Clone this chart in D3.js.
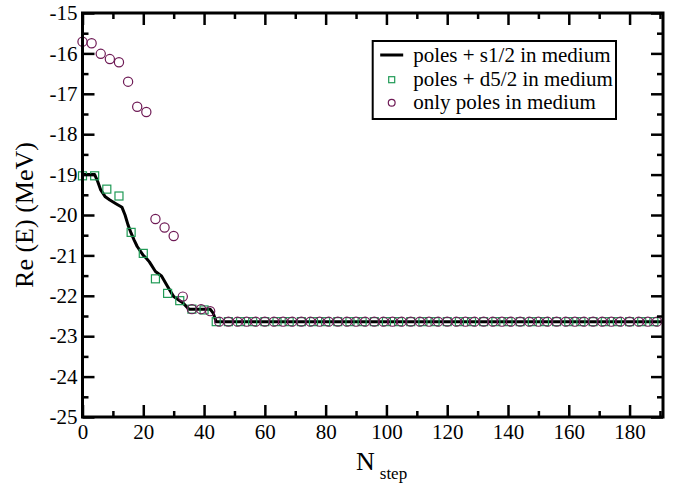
<!DOCTYPE html>
<html>
<head>
<meta charset="utf-8">
<script src="https://cdn.jsdelivr.net/npm/d3@7"></script>
<style>
  body { margin: 0; background: #fff; }
  svg { display: block; }
</style>
</head>
<body>
<svg id="chart" width="675" height="486" font-family="Liberation Serif"></svg>
<script>
// black line: poles + s1/2 in medium
var lineX = [0, 4, 5, 6, 7.5, 9, 11, 13, 14, 15, 16, 17, 18, 20, 21, 22, 24, 26, 28, 30, 32, 33, 35, 42, 43, 44, 191];
var lineY = [-19.0, -19.0, -19.17, -19.38, -19.55, -19.63, -19.72, -19.81, -20.0, -20.25, -20.45, -20.62, -20.78, -21.0, -21.07, -21.16, -21.40, -21.51, -21.77, -22.02, -22.12, -22.17, -22.33, -22.33, -22.43, -22.64, -22.64];

// green squares: poles + d5/2 in medium
var sqX = [0, 4, 8, 12, 16, 20, 24, 28, 32, 36, 40, 44, 48, 52, 56, 60, 64, 68, 72, 76, 80, 84, 88, 92, 96, 100,
           104, 108, 112, 116, 120, 124, 128, 132, 136, 140, 144, 148, 152, 156, 160, 164, 168, 172, 176, 180, 184, 188];
var sqY = [-19.03, -19.03, -19.36, -19.53, -20.43, -20.95, -21.58, -21.94, -22.12, -22.33, -22.35, -22.64,
           -22.64, -22.64, -22.64, -22.64, -22.64, -22.64, -22.64, -22.64, -22.64, -22.64, -22.64, -22.64, -22.64, -22.64,
           -22.64, -22.64, -22.64, -22.64, -22.64, -22.64, -22.64, -22.64, -22.64, -22.64, -22.64, -22.64, -22.64, -22.64,
           -22.64, -22.64, -22.64, -22.64, -22.64, -22.64, -22.64, -22.64];

// maroon circles: only poles in medium
var circX = [0, 3, 6, 9, 12, 15, 18, 21, 24, 27, 30, 33, 36, 39, 42, 45, 48, 51, 54, 57, 60, 63, 66, 69, 72, 75,
             78, 81, 84, 87, 90, 93, 96, 99, 102, 105, 108, 111, 114, 117, 120, 123, 126, 129, 132, 135, 138, 141,
             144, 147, 150, 153, 156, 159, 162, 165, 168, 171, 174, 177, 180, 183, 186, 189];
var circY = [-15.71, -15.75, -16.01, -16.14, -16.22, -16.70, -17.32, -17.45, -20.10, -20.31, -20.52, -22.02, -22.33, -22.33, -22.38,
             -22.64, -22.64, -22.64, -22.64, -22.64, -22.64, -22.64, -22.64, -22.64, -22.64, -22.64, -22.64, -22.64,
             -22.64, -22.64, -22.64, -22.64, -22.64, -22.64, -22.64, -22.64, -22.64, -22.64, -22.64, -22.64, -22.64,
             -22.64, -22.64, -22.64, -22.64, -22.64, -22.64, -22.64, -22.64, -22.64, -22.64, -22.64, -22.64, -22.64,
             -22.64, -22.64, -22.64, -22.64, -22.64, -22.64, -22.64, -22.64, -22.64, -22.64];

var xTicks = [0, 20, 40, 60, 80, 100, 120, 140, 160, 180];
var xMinor = [10, 30, 50, 70, 90, 110, 130, 150, 170, 190];
var yTicks = [-25, -24, -23, -22, -21, -20, -19, -18, -17, -16, -15];
var yMinor = [-24.5, -23.5, -22.5, -21.5, -20.5, -19.5, -18.5, -17.5, -16.5, -15.5];

var legendLabels = ["poles + s1/2 in medium", "poles + d5/2 in medium", "only poles in medium"];
var green = "#1f9a55", maroon = "#6e1a55";
var serif = "Liberation Serif";

var svg = d3.select("svg#chart"),
    margin = {top: 13, right: 12, bottom: 69, left: 82.5},
    width = +svg.attr("width") - margin.left - margin.right,
    height = +svg.attr("height") - margin.top - margin.bottom;

var g = svg.append("g").attr("transform", "translate(" + margin.left + "," + margin.top + ")");

var x = d3.scaleLinear().domain([0, 191]).range([0, width]);
var y = d3.scaleLinear().domain([-25, -15]).range([height, 0]);

var plain = function (d) { return String(d); };   // hyphen minus like the original

var line = d3.line()
    .x(function (d, i) { return x(lineX[i]); })
    .y(function (d, i) { return y(lineY[i]); });

g.append("path")
    .datum(lineX)
    .attr("d", line)
    .attr("fill", "none")
    .attr("stroke", "#000")
    .attr("stroke-width", 3)
    .attr("stroke-linejoin", "round");

g.selectAll(".sq")
    .data(sqX)
    .enter()
    .append("rect")
    .attr("class", "sq")
    .attr("x", function (d) { return x(d) - 4; })
    .attr("y", function (d, i) { return y(sqY[i]) - 4; })
    .attr("width", 8)
    .attr("height", 8)
    .attr("fill", "none")
    .attr("stroke", green)
    .attr("stroke-width", 1.2);

g.selectAll(".circ")
    .data(circX)
    .enter()
    .append("circle")
    .attr("class", "circ")
    .attr("cx", function (d) { return x(d); })
    .attr("cy", function (d, i) { return y(circY[i]); })
    .attr("r", 4.6)
    .attr("fill", "none")
    .attr("stroke", maroon)
    .attr("stroke-width", 1.2);

// ticks on all four sides, pointing inward
function styleAxis(sel) {
    sel.attr("font-family", serif).attr("font-size", 21);
    sel.select(".domain").remove();
    sel.selectAll(".tick line").attr("stroke", "#000").attr("stroke-width", 2.5);
    sel.selectAll("text").attr("fill", "#000");
}

g.append("g").attr("transform", "translate(0," + height + ")")
    .call(d3.axisBottom(x).tickValues(xTicks).tickSize(-12).tickPadding(7).tickFormat(plain))
    .call(styleAxis);
g.append("g").attr("transform", "translate(0," + height + ")")
    .call(d3.axisBottom(x).tickValues(xMinor).tickSize(-6).tickFormat(""))
    .call(styleAxis);
g.append("g")
    .call(d3.axisTop(x).tickValues(xTicks).tickSize(-12).tickFormat(""))
    .call(styleAxis);
g.append("g")
    .call(d3.axisTop(x).tickValues(xMinor).tickSize(-6).tickFormat(""))
    .call(styleAxis);

g.append("g")
    .call(d3.axisLeft(y).tickValues(yTicks).tickSize(-12).tickPadding(5).tickFormat(plain))
    .call(styleAxis);
g.append("g")
    .call(d3.axisLeft(y).tickValues(yMinor).tickSize(-6).tickFormat(""))
    .call(styleAxis);
g.append("g").attr("transform", "translate(" + width + ",0)")
    .call(d3.axisRight(y).tickValues(yTicks).tickSize(-12).tickFormat(""))
    .call(styleAxis);
g.append("g").attr("transform", "translate(" + width + ",0)")
    .call(d3.axisRight(y).tickValues(yMinor).tickSize(-6).tickFormat(""))
    .call(styleAxis);

g.append("rect")
    .attr("width", width)
    .attr("height", height)
    .attr("fill", "none")
    .attr("stroke", "#000")
    .attr("stroke-width", 3);

// axis titles
svg.append("text")
    .attr("transform", "translate(33," + (margin.top + height / 2) + ")rotate(-90)")
    .attr("text-anchor", "middle")
    .attr("font-family", serif)
    .attr("font-size", 26)
    .text("Re (E) (MeV)");

var xt = svg.append("text")
    .attr("x", 356)
    .attr("y", 470)
    .attr("font-family", serif)
    .attr("font-size", 26);
xt.append("tspan").text("N");
xt.append("tspan").attr("dx", 5).attr("dy", 9).attr("font-size", 17).text("step");

// legend
var lg = svg.append("g").attr("transform", "translate(372.7,41)");
lg.append("rect")
    .attr("width", 243.3)
    .attr("height", 78)
    .attr("fill", "#fff")
    .attr("stroke", "#000")
    .attr("stroke-width", 2);

var rows = [14, 38.7, 61.7];
lg.append("line").attr("x1", 7.5).attr("x2", 30.5).attr("y1", rows[0]).attr("y2", rows[0])
    .attr("stroke", "#000").attr("stroke-width", 3);
lg.append("rect").attr("x", 16).attr("y", rows[1] - 3).attr("width", 6).attr("height", 6)
    .attr("fill", "none").attr("stroke", green).attr("stroke-width", 1.2);
lg.append("circle").attr("cx", 19).attr("cy", rows[2]).attr("r", 3.4)
    .attr("fill", "none").attr("stroke", maroon).attr("stroke-width", 1.2);

lg.selectAll(".lt")
    .data(legendLabels)
    .enter()
    .append("text")
    .attr("class", "lt")
    .attr("x", 40.5)
    .attr("y", function (d, i) { return rows[i] + 6.5; })
    .attr("font-family", serif)
    .attr("font-size", 21)
    .text(function (d) { return d; });
</script>
</body>
</html>
